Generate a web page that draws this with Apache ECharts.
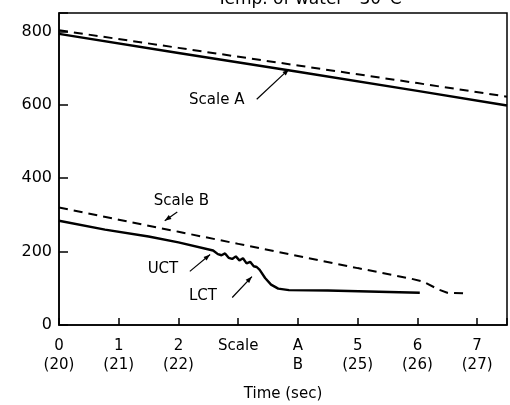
<!DOCTYPE html>
<html><head><meta charset="utf-8">
<script src="https://cdn.jsdelivr.net/npm/echarts@6/dist/echarts.min.js"></script>
<style>html,body{margin:0;padding:0;background:#fff}#c{width:510px;height:405px}</style>
</head><body><div id="c"></div>
<script>
// Data (time in sec, value on y scale)
const xTickTop = ['0','1','2','Scale','A','5','6','7'];
const xTickBottom = ['(20)','(21)','(22)','','B','(25)','(26)','(27)'];
const scaleA_solid = [[0,793],[2,741],[4,690],[6,638],[7.5,598]];
const scaleA_dashed = [[0,803],[2,755],[4,707],[6,659],[7.5,622]];
const scaleB_dashed = [[0,320],[1,287],[2,254],[3,221],[4,188],[5,155],[5.9,126],[6.1,118],[6.35,97],[6.5,88],[6.8,86]];
const scaleB_solid = [[0,284],[0.77,260],[1.5,241],[2.0,225],[2.58,203],[2.66,193],[2.72,190],[2.78,195],[2.84,183],[2.9,180],[2.96,187],[3.02,176],[3.08,182],[3.14,168],[3.2,172],[3.26,160],[3.31,158],[3.36,150],[3.45,128],[3.55,110],[3.67,99],[3.85,95],[4.5,94],[6.04,88]];
const annotations = [
  {text:'Scale A', at:[2.64,612], from:[3.31,615], to:[3.85,697]},
  {text:'Scale B', at:[2.05,337], from:[1.98,308], to:[1.77,284]},
  {text:'UCT', at:[1.74,152], from:[2.19,146], to:[2.53,192]},
  {text:'LCT', at:[2.41,80], from:[2.9,75], to:[3.23,132]}
];
const FONT = 'DejaVu Sans';
const chart = echarts.init(document.getElementById('c'));
const lineSeries = (data, dashed) => ({
  type:'line', data, showSymbol:false, symbol:'none', silent:true,
  lineStyle:{color:'#000', width: dashed?2:2.4, type: dashed?[9,6]:'solid'}
});
chart.setOption({
  animation:false,
  backgroundColor:'#fff',
  title:{text:'Temp. of water   30°C', left:212, top:-14, textStyle:{fontFamily:FONT,fontSize:17,fontWeight:'normal',color:'#000'}},
  grid:{left:59,right:3,top:13,bottom:80,show:true,borderColor:'#000',borderWidth:1.5,containLabel:false,outerBoundsMode:'none'},
  xAxis:{type:'value',min:0,max:7.5,interval:1,
    axisLine:{lineStyle:{color:'#000',width:1.5}},
    axisTick:{inside:true,length:7,lineStyle:{color:'#000',width:1.5}},
    splitLine:{show:false},
    axisLabel:{margin:12,color:'#000',fontFamily:FONT,fontSize:15,lineHeight:19,
      formatter:v=>{const i=Math.round(v); if(Math.abs(v-i)>1e-6||i>7) return ''; return xTickTop[i]+'\n'+xTickBottom[i];}},
    name:'Time (sec)',nameLocation:'middle',nameGap:62,
    nameTextStyle:{color:'#000',fontFamily:FONT,fontSize:15}},
  yAxis:{type:'value',min:0,max:850,interval:200,
    axisLine:{show:true,lineStyle:{color:'#000',width:1.5}},
    axisTick:{show:true,inside:true,length:9,lineStyle:{color:'#000',width:1.5}},
    splitLine:{show:false},
    axisLabel:{margin:7,color:'#000',fontFamily:FONT,fontSize:16,formatter:v=>v%200===0?String(v):''}},
  series:[lineSeries(scaleA_solid,false),lineSeries(scaleA_dashed,true),lineSeries(scaleB_dashed,true),lineSeries(scaleB_solid,false)]
});
function arrowGraphics(){
  const g=[];
  annotations.forEach(a=>{
    const p=chart.convertToPixel({gridIndex:0},a.at);
    const f=chart.convertToPixel({gridIndex:0},a.from);
    const t=chart.convertToPixel({gridIndex:0},a.to);
    g.push({type:'text',x:p[0],y:p[1],style:{text:a.text,font:'15px "'+FONT+'"',fill:'#000',align:'center',verticalAlign:'middle'}});
    g.push({type:'line',shape:{x1:f[0],y1:f[1],x2:t[0],y2:t[1]},style:{stroke:'#000',lineWidth:1.2}});
    const ang=Math.atan2(t[1]-f[1],t[0]-f[0]), L=7, w=0.35;
    g.push({type:'polygon',shape:{points:[[t[0],t[1]],[t[0]-L*Math.cos(ang-w),t[1]-L*Math.sin(ang-w)],[t[0]-L*Math.cos(ang+w),t[1]-L*Math.sin(ang+w)]]},style:{fill:'#000'}});
  });
  return g;
}
chart.setOption({graphic:arrowGraphics()});
</script></body></html>
